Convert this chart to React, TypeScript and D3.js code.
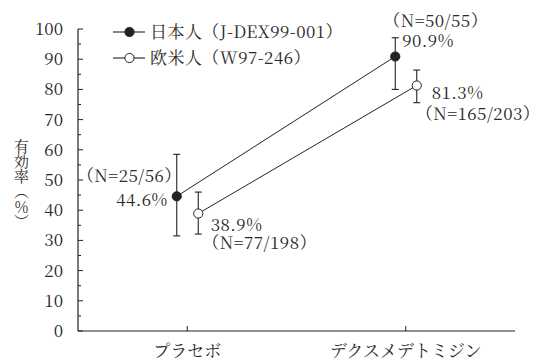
import React from "react";
import * as d3 from "d3";

// ---- data ----
const categories = ["プラセボ", "デクスメデトミジン"];
const seriesNames = ["日本人（J-DEX99-001）", "欧米人（W97-246）"];
const jpValues = [44.6, 90.9];
const jpLower = [31.5, 80.0];
const jpUpper = [58.5, 97.1];
const jpN = ["（N=25/56）", "（N=50/55）"];
const westValues = [38.9, 81.3];
const westLower = [32.1, 75.6];
const westUpper = [46.0, 86.4];
const westN = ["（N=77/198）", "（N=165/203）"];
const yTicks = [0, 10, 20, 30, 40, 50, 60, 70, 80, 90, 100];
const yMinorTicks = [5, 15, 25, 35, 45, 55, 65, 75, 85, 95];
const yTitle = "有効率（％）";

// ---- layout ----
const W = 539;
const H = 361;
const axisX = 78;
const axisRight = 515;
const yTop = 29;
const yBottom = 331;
const FONT = '"Noto Serif CJK JP", "Noto Sans CJK JP", serif';
const INK = "#222";
const TXT = "#2a2a2a";
const tStyle: React.CSSProperties = { fontFamily: FONT };
const aStyle: React.CSSProperties = { fontFamily: FONT, letterSpacing: 0.45 };

const x = d3.scalePoint<string>().domain(categories).range([axisX, axisRight]).padding(0.5);
const y = d3.scaleLinear().domain([0, 100]).range([yBottom, yTop]);

const series = [
  { name: seriesNames[0], values: jpValues, lower: jpLower, upper: jpUpper, n: jpN, filled: true, dx: -10.5 },
  { name: seriesNames[1], values: westValues, lower: westLower, upper: westUpper, n: westN, filled: false, dx: 11 },
];

// annotation placement per series/category: [pct dx, pct dy, pct anchor, N dx, N dy, N anchor]
const annLayout: [number, number, string, number, number, string][][] = [
  [
    [-9, 9.2, "end", 5, -14.3, "end"],
    [7, -9.5, "start", -12, -29.5, "start"],
  ],
  [
    [12.5, 17, "start", 4, 35.5, "start"],
    [15, 13.5, "start", -1, 34.5, "start"],
  ],
];

const line = d3
  .line<[number, number]>()
  .x((d) => d[0])
  .y((d) => d[1]);

export default function App() {
  const r = 4.6;
  const cap = 3.5;
  return (
    <svg
      width={W}
      height={H}
      style={{ position: "absolute", left: 0, top: 0, background: "#fff" }}
    >
      <rect width={W} height={H} fill="#fff" />
      {/* y axis */}
      <line x1={axisX} x2={axisX} y1={y(100)} y2={y(0)} stroke={INK} strokeWidth={1.2} />
      {yTicks.map((t) => (
        <g key={"yt" + t}>
          <line x1={axisX} x2={axisX + 5} y1={y(t)} y2={y(t)} stroke={INK} strokeWidth={1} />
          <text x={axisX - 15} y={y(t) + 6} textAnchor="end" fontSize={17} fill={TXT} style={tStyle}>
            {t}
          </text>
        </g>
      ))}
      {yMinorTicks.map((t) => (
        <line key={"ym" + t} x1={axisX} x2={axisX + 3} y1={y(t)} y2={y(t)} stroke={INK} strokeWidth={1} />
      ))}
      {/* x axis */}
      <line x1={axisX} x2={axisRight} y1={y(0)} y2={y(0)} stroke={INK} strokeWidth={1.2} />
      {categories.map((c) => (
        <g key={c}>
          <line x1={x(c)!} x2={x(c)!} y1={y(0)} y2={y(0) - 5} stroke={INK} strokeWidth={1} />
          <text x={x(c)!} y={357} textAnchor="middle" fontSize={17} fill={TXT} style={tStyle}>
            {c}
          </text>
        </g>
      ))}
      {/* y title */}
      <text
        x={21.5}
        y={139}
        fontSize={15}
        fill={TXT}
        style={{ ...tStyle, writingMode: "vertical-rl" } as any}
      >
        {yTitle}
      </text>
      {/* lines */}
      {series.map((s) => (
        <path
          key={"l" + s.name}
          d={line(categories.map((c, i) => [x(c)! + s.dx, y(s.values[i])]))!}
          fill="none"
          stroke={INK}
          strokeWidth={1}
        />
      ))}
      {/* error bars & markers */}
      {series.map((s) =>
        categories.map((c, i) => {
          const px = x(c)! + s.dx;
          return (
            <g key={"e" + s.name + c}>
              <line x1={px} x2={px} y1={y(s.lower[i])} y2={y(s.upper[i])} stroke={INK} strokeWidth={1.1} />
              <line x1={px - cap} x2={px + cap} y1={y(s.lower[i])} y2={y(s.lower[i])} stroke={INK} strokeWidth={1.1} />
              <line x1={px - cap} x2={px + cap} y1={y(s.upper[i])} y2={y(s.upper[i])} stroke={INK} strokeWidth={1.1} />
              <circle cx={px} cy={y(s.values[i])} r={r} fill={s.filled ? INK : "#fff"} stroke={INK} strokeWidth={1} />
            </g>
          );
        })
      )}
      {/* annotations */}
      {series.map((s, si) =>
        categories.map((c, i) => {
          const px = x(c)! + s.dx;
          const py = y(s.values[i]);
          const L = annLayout[si][i];
          return (
            <g key={"a" + s.name + c} fontSize={17} fill={TXT}>
              <text x={px + L[0]} y={py + L[1]} textAnchor={L[2] as any} style={aStyle}>
                {s.values[i].toFixed(1)}%
              </text>
              <text x={px + L[3]} y={py + L[4]} textAnchor={L[5] as any} style={aStyle}>
                {s.n[i]}
              </text>
            </g>
          );
        })
      )}
      {/* legend */}
      {series.map((s, si) => {
        const ly = 32 + si * 26;
        return (
          <g key={"lg" + s.name}>
            <line x1={113} x2={145} y1={ly} y2={ly} stroke={INK} strokeWidth={1.1} />
            <circle cx={129.5} cy={ly} r={r} fill={s.filled ? INK : "#fff"} stroke={INK} strokeWidth={1} />
            <text x={150} y={ly + 5.5} fontSize={17} fill={TXT} style={aStyle}>
              {s.name}
            </text>
          </g>
        );
      })}
    </svg>
  );
}
